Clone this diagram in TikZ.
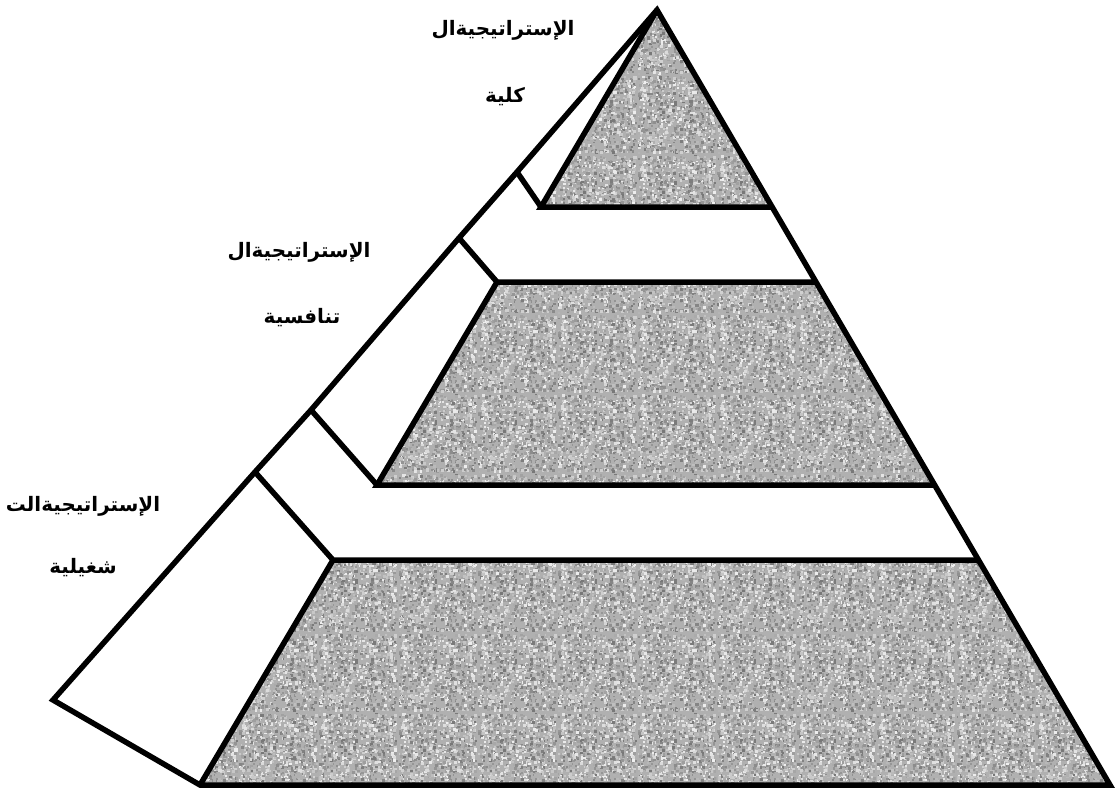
\documentclass[tikz,border=0pt]{standalone}
\usepackage{fontspec}
\usetikzlibrary{patterns}
\TeXXeTstate=1
\newfontfamily\arabicfont[Script=Arabic]{DejaVu Sans}
\pgfdeclarepatterninherentlycolored{granite}
{\pgfpoint{-1pt}{-1pt}}{\pgfpoint{81pt}{81pt}}{\pgfpoint{80pt}{80pt}}
{
  \pgfsetfillcolor{black!31}
  \pgfpathrectangle{\pgfpoint{-1pt}{-1pt}}{\pgfpoint{82pt}{82pt}}
  \pgfusepath{fill}
  \pgfmathsetseed{11}
  \foreach \i in {1,...,900} {
    \pgfmathtruncatemacro\g{6+48*rnd}
    \pgfmathsetmacro\xx{77*rnd}
    \pgfmathsetmacro\yy{77*rnd}
    \pgfmathsetmacro\ww{1.6+1.6*rnd}
    \pgfsetfillcolor{black!\g}
    \pgfpathrectangle{\pgfpoint{\xx pt}{\yy pt}}{\pgfpoint{\ww pt}{\ww pt}}
    \pgfusepath{fill}
  }
}
\begin{document}
\begin{tikzpicture}[x=1bp,y=-1bp,
  edge/.style={line width=5.5bp, line join=miter, line cap=butt},
  granitefill/.style={pattern=granite},
  lbl/.style={font=\arabicfont\bfseries\fontsize{20}{24}\selectfont, inner sep=0pt}]
\useasboundingbox (0,0) rectangle (1118,792);
% main triangle
\coordinate (A) at (657,10);
\coordinate (B) at (200,785);
\coordinate (C) at (1110,785);
\coordinate (L) at (53,700);
% layer corners
\coordinate (t1l) at (541,207); \coordinate (t1r) at (772,207);
\coordinate (m1l) at (497,282); \coordinate (m1r) at (816,282);
\coordinate (m2l) at (377,485); \coordinate (m2r) at (934,485);
\coordinate (b1l) at (333,560); \coordinate (b1r) at (978,560);
% points on the outer left line
\coordinate (o1) at (517,172);
\coordinate (o2) at (459,238);
\coordinate (o3) at (311,410);
\coordinate (o4) at (255,472);
% textured gray layers
\fill[granitefill] (A) -- (t1r) -- (t1l) -- cycle;
\fill[granitefill] (m1l) -- (m1r) -- (m2r) -- (m2l) -- cycle;
\fill[granitefill] (b1l) -- (b1r) -- (C) -- (B) -- cycle;
% outlines
\draw[edge] (A) -- (C) -- (B) -- (L) -- (o4) -- (o3) -- (o2) -- (o1) -- cycle;
\draw[edge] (A) -- (t1l) -- (t1r);
\draw[edge] (o1) -- (t1l);
\draw[edge] (o2) -- (m1l) -- (m1r);
\draw[edge] (m1l) -- (m2l) -- (m2r);
\draw[edge] (o3) -- (m2l);
\draw[edge] (o4) -- (b1l) -- (b1r);
\draw[edge] (b1l) -- (B);
% labels
\node[lbl] (l1a) at (503,30) {\beginR الإستراتيجيةال\endR};
\node[lbl] (l1b) at (505,97) {\beginR كلية\endR};
\node[lbl] (l2a) at (299,252) {\beginR الإستراتيجيةال\endR};
\node[lbl] (l2b) at (302,318) {\beginR تنافسية\endR};
\node[lbl] (l3a) at (83,506) {\beginR الإستراتيجيةالت\endR};
\node[lbl] (l3b) at (83,568) {\beginR شغيلية\endR};
\end{tikzpicture}
\end{document}
